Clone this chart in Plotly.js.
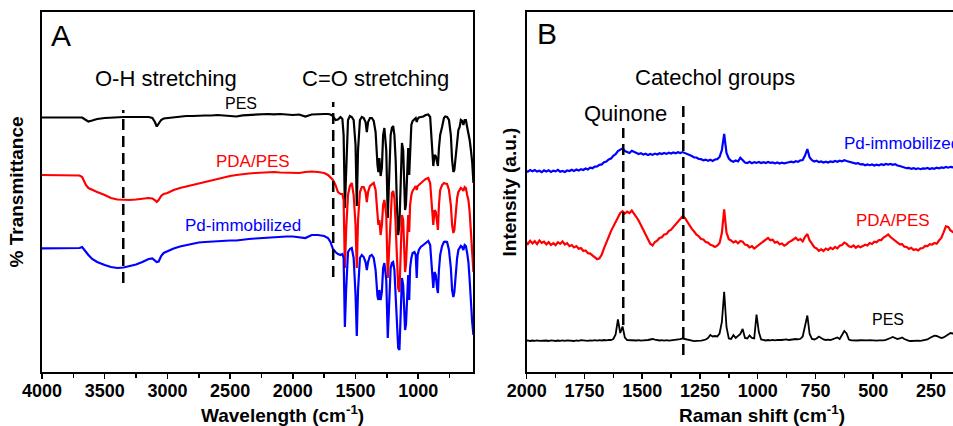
<!DOCTYPE html>
<html>
<head>
<meta charset="utf-8">
<script src="https://cdn.plot.ly/plotly-3.0.1.min.js"></script>
<style>
html,body{margin:0;padding:0;background:#fff;overflow:hidden;}
#chart{width:960px;height:426px;}
</style>
</head>
<body>
<div id="chart"></div>
<script>
// ---------- Panel A: FTIR ----------
const ftirWavenumber = [
4000,3900,3800,3700,3680,3650,3630,3600,3560,3500,
3450,3400,3350,3300,3250,3200,3150,3120,3100,3085,
3070,3050,3030,3000,2950,2900,2850,2800,2750,2700,
2650,2600,2550,2500,2450,2400,2350,2300,2250,2200,
2150,2100,2050,2000,1950,1900,1850,1800,
1750,1720,1700,1680,1660,1640,1620,1605,1595,1585,
1575,1560,1545,1530,1515,1500,1490,1480,1465,1450,
1435,1420,1410,1400,1385,1370,1355,1340,1325,1318,
1310,1300,1290,1280,1270,1255,1243,1232,1220,1210,
1200,1190,1180,1170,1160,1150,1140,1130,1120,1112,
1105,1098,1090,1080,1072,1065,1055,1045,1030,1020,
1012,1005,995,980,960,940,920,905,892,880,
870,860,850,843,835,825,810,795,785,770,
755,740,730,720,712,700,690,680,670,660,
650,640,630,620,610,600,590,580,570,560];

const ftirPES = [
254.5,254.5,254.7,255,254.5,252,250.5,251.5,253,254,
254.5,254.7,255,255,255.2,255.2,255,254,250,245.5,
248,252,253.5,254,255,255.5,256,256,256.5,256.5,
256.5,257,256.5,256,255.5,256.7,257,257.5,258,258,
257.7,258,257.5,257,257.5,255.5,257.5,258,
258,258,257.5,256,252,252.5,255,253,237,164,
207,252,256,255,252,227,166,222,252,255,
254,250,240,250,254,254,251,240,207,200,
214,196,204,237,244,222,154,192,237,244,
246,237,212,167,137,147,192,229,222,187,
162,167,202,224,197,222,247,251,253,254,
250,253,254.5,255,255.5,257,257.5,255,232,206,
217,216,210,206,224,237,245,254,255.5,255,
252,237,212,200,202,217,235,242,245,252,
251,247,252,252,245,240,232,222,210,189];

const ftirPDA = [
197,197,197,196.5,195,187,184,182,180,177,
174,172.5,172,172,172.5,173,174,173.5,172,170,
172,176,178,179,182,184,185.5,187,189,190.5,
192,193.5,195,196,197,198,198.5,199,199.5,200,
200,199.5,199.5,199.5,199,200,200.5,200,
199,197,194,192,187,180,178,178,172,104,
142,177,186,189,177,147,104,152,180,185,
185,180,170,180,186,188,189,182,157,147,
152,137,147,167,172,157,94,122,167,179,
181,174,147,112,84,80,122,157,152,117,
100,107,137,157,140,167,177,181,184,186,
182,186,187,189,191,193,194,189,167,147,
162,160,150,142,167,182,187,189,188.5,188,
182,167,147,139,142,162,174,180,182,184,
183,181,185,184,177,172,160,142,122,100];

const ftirPd = [
123.7,123.7,124,124,125,120,117,113,110,107,
105,104,104.5,106,107.5,110,113,113.5,111,110,
110.5,116,119,121,123.5,125.5,127,128,129.5,130,
130.5,130.5,131,131.5,131.5,132.5,133,133.5,134,134.5,
135,135.5,135.5,135.5,135,134,137,137,
136,134,130,123,120,118,117,118,114,45,
82,120,123,124,114,77,36,82,114,117,
115,110,102,110,116,117,114,102,76,72,
82,72,80,104,109,92,34,67,104,109,
110,102,77,42,24,22,62,94,87,52,
42,47,77,97,72,104,114,119,120,117,
94,117,122,125,127,129,131,127,107,84,
100,97,84,79,102,117,126,130,130.3,130,
122,104,82,75,80,100,114,122,124,126,
125,122,127,126,119,110,92,67,50,37];

const ftirTickValues = [4000,3500,3000,2500,2000,1500,1000];
const ftirBandPositions = [3352, 1678];       // O-H, C=O
const ftirBandLow = [89, 95];
const ftirBandHigh = [262, 270];

// ---------- Panel B: Raman ----------
const ramanShift = [
2005,1995,1985,1975,1965,1955,1945,1935,1925,1915,
1905,1895,1885,1875,1865,1855,1845,1835,1825,1815,
1805,1795,1785,1775,1765,1755,1745,1735,1725,1715,
1705,1695,1685,1675,1665,1655,1645,1635,1625,1615,
1605,1595,1585,1575,1565,1555,1545,1535,1525,1515,
1505,1495,1485,1475,1465,1455,1445,1435,1425,1415,
1405,1395,1385,1375,1365,1355,1345,1335,1325,1315,
1305,1295,1285,1275,1265,1255,1245,1235,1225,1215,
1205,1195,1185,1175,1165,1155,1145,1135,1125,1115,
1105,1095,1085,1075,1065,1055,1045,1035,1025,1015,
1005,995,985,975,965,955,945,935,925,915,
905,895,885,875,865,855,845,835,825,815,
805,795,785,775,765,755,745,735,725,715,
705,695,685,675,665,655,645,635,625,615,
605,595,585,575,565,555,545,535,525,515,
505,495,485,475,465,455,445,435,425,415,
405,395,385,375,365,355,345,335,325,315,
305,295,285,275,265,255,245,235,225,215,
205,195,185,175,165,155,145,135,125];

const ramanPd = [
201.5,200.2,202.0,200.8,201.9,200.4,201.2,199.9,201.6,200.5,
201.8,200.1,201.3,200.6,202.1,200.3,201.0,200.0,201.5,201.0,
202.3,201.1,202.4,201.4,202.8,202.0,203.5,202.6,204.3,203.8,
205.4,205.6,207.2,207.6,209.8,210.4,212.6,213.5,216.2,217.8,
220.9,222.5,223.6,221.0,220.3,219.0,221.2,220.0,219.6,218.0,
218.7,217.4,218.2,216.9,218.0,217.1,218.4,217.5,218.8,218.0,
219.0,218.1,219.2,218.4,219.5,218.7,219.8,218.9,219.9,219.0,
218.3,216.8,216.0,214.6,214.5,213.0,212.8,211.6,212.4,211.3,
212.2,211.0,212.5,212.9,215.0,222.0,238.0,219.0,213.5,211.2,
210.3,211.5,210.6,214.2,212.0,209.4,209.0,210.2,208.8,209.9,
209.1,210.0,208.9,209.8,209.0,210.1,209.2,209.6,208.6,209.5,
208.5,209.4,208.7,209.0,209.8,210.4,209.6,210.8,210.1,211.6,
212.0,216.5,223.0,214.5,211.8,210.5,211.2,209.9,210.6,209.5,
210.3,209.4,210.6,210.0,211.0,210.2,211.3,210.6,211.8,211.0,
210.3,209.6,209.0,208.4,208.9,207.6,207.9,206.7,207.5,206.8,
207.6,206.5,207.3,206.6,207.8,207.0,208.1,207.5,208.0,207.2,
207.9,206.5,206.0,205.2,204.8,203.8,204.2,203.1,203.9,203.0,
203.7,202.8,203.6,203.3,204.1,203.0,203.8,203.2,204.4,203.6,
204.5,204.1,205.0,204.3,205.2,204.7,205.4,204.9,205.3];

const ramanPDA = [
130.5,128.0,131.2,128.6,130.8,127.9,131.5,129.2,130.3,127.6,
129.9,127.0,128.8,126.9,129.8,128.1,130.6,127.5,128.9,125.8,
127.0,124.6,125.9,123.2,123.9,121.0,121.6,118.8,118.4,116.3,
115.2,112.8,113.6,117.5,123.8,130.5,135.2,140.9,145.2,150.4,
154.6,159.0,160.8,158.4,160.3,158.9,161.4,158.6,155.0,151.2,
146.5,142.8,137.4,132.6,128.3,126.5,130.0,131.4,134.0,134.8,
137.5,137.9,141.0,142.4,145.1,147.6,150.3,152.1,155.8,154.0,
150.2,146.8,143.1,140.5,137.4,135.8,133.0,132.6,130.0,129.4,
127.2,126.5,125.0,126.3,129.0,139.0,162.7,139.5,132.8,131.6,
129.5,130.8,128.7,131.0,130.2,127.4,126.9,124.6,125.8,123.5,
125.4,126.8,129.5,131.2,132.4,134.0,131.8,132.3,129.4,130.2,
127.8,128.5,126.4,127.6,129.9,131.0,132.5,134.2,131.8,133.0,
130.6,135.2,138.0,131.5,128.4,124.8,123.5,121.2,122.6,121.0,
123.4,122.1,124.3,122.8,125.0,123.6,126.2,127.0,129.4,128.1,
125.8,124.9,126.6,124.3,126.0,124.8,125.9,127.2,126.5,128.9,
128.0,130.3,129.8,132.0,131.9,134.5,135.8,137.6,135.0,133.2,
130.8,129.5,127.6,127.9,125.3,125.0,123.1,124.2,122.0,122.8,
121.5,123.6,124.0,126.1,125.8,127.9,127.4,129.0,128.2,131.5,
134.0,139.6,145.6,145.0,141.5,140.0,138.2,138.9,137.6];

const ramanPES = [
31.2,31.6,31.0,31.5,31.1,31.7,31.2,31.4,30.9,31.5,
31.0,31.6,31.3,31.0,31.5,31.1,31.6,31.2,31.7,31.3,
31.5,31.0,31.6,31.2,31.8,31.4,31.6,31.1,31.7,31.3,
31.8,31.4,31.9,31.5,32.0,31.7,32.2,32.0,33.0,37.5,
52.5,39.0,45.5,34.5,32.0,31.8,31.4,31.9,31.5,31.8,
31.3,31.7,31.5,32.0,32.5,33.0,32.4,31.8,31.5,31.9,
31.4,31.8,31.3,31.6,31.9,31.5,32.1,32.8,33.5,33.0,
32.2,31.5,31.0,30.8,31.2,30.9,31.3,31.8,32.5,34.0,
37.0,35.5,36.0,35.5,38.5,50.0,80.3,45.0,33.5,33.0,
37.0,34.0,36.5,38.0,43.0,34.0,33.5,36.5,34.0,33.5,
57.5,40.0,32.5,31.8,31.5,32.0,31.6,32.1,31.7,32.2,
31.8,32.0,32.4,32.6,32.0,32.3,32.8,33.0,32.6,33.2,
35.5,45.0,56.5,38.0,33.0,32.5,33.5,35.5,34.0,32.5,
32.0,32.4,32.0,32.6,33.5,34.5,33.0,37.0,41.0,38.5,
32.5,31.6,31.4,31.8,31.5,31.9,31.6,32.0,31.7,31.9,
31.5,31.8,31.4,31.7,31.3,31.6,32.2,32.8,34.0,35.0,
34.0,33.0,33.5,34.5,33.0,31.8,31.2,31.0,31.3,31.0,
31.4,31.1,31.5,31.8,32.5,34.0,35.5,36.3,36.0,35.0,
34.0,34.5,36.0,37.5,39.0,38.5,38.0,37.5,37.0];

const ramanTickValues = [2000,1750,1500,1250,1000,750,500,250];
const ramanBandPositions = [1582, 1322];      // Quinone, Catechol
const ramanBandLow = [47, 17];
const ramanBandHigh = [244, 272];

// ---------- layout helpers ----------
const W = 960, H = 426, ML = 42, MT = 12, MB = 54;
const PW = W - ML, PH = H - MT - MB;
const fx = px => (px - ML) / PW;
const fy = py => (H - MB - py) / PH;
const FONT = 'Arial, "Liberation Sans", sans-serif';

function ann(text, x, y, size, color, opts) {
  return Object.assign({
    text: text, xref: 'paper', yref: 'paper', x: fx(x), y: fy(y),
    xanchor: 'center', yanchor: 'middle', showarrow: false,
    font: {family: FONT, size: size, color: color || '#000'}
  }, opts || {});
}

const traces = [
  {x: ftirWavenumber, y: ftirPES, xaxis: 'x', yaxis: 'y', mode: 'lines', name: 'PES', line: {color: '#000000', width: 2.2}},
  {x: ftirWavenumber, y: ftirPDA, xaxis: 'x', yaxis: 'y', mode: 'lines', name: 'PDA/PES', line: {color: '#ff0000', width: 2.2}},
  {x: ftirWavenumber, y: ftirPd, xaxis: 'x', yaxis: 'y', mode: 'lines', name: 'Pd-immobilized', line: {color: '#0000ff', width: 2.2}},
  {x: ramanShift, y: ramanPd, xaxis: 'x2', yaxis: 'y2', mode: 'lines', name: 'Pd-immobilized', line: {color: '#0000ff', width: 2.2}},
  {x: ramanShift, y: ramanPDA, xaxis: 'x2', yaxis: 'y2', mode: 'lines', name: 'PDA/PES', line: {color: '#ff0000', width: 2.2}},
  {x: ramanShift, y: ramanPES, xaxis: 'x2', yaxis: 'y2', mode: 'lines', name: 'PES', line: {color: '#000000', width: 1.8}}
];

const shapes = [];
ftirBandPositions.forEach((v, i) => shapes.push({type: 'line', xref: 'x', yref: 'y', x0: v, x1: v, y0: ftirBandLow[i], y1: ftirBandHigh[i], line: {color: '#000', width: 2.5, dash: '11px,6px'}}));
ramanBandPositions.forEach((v, i) => shapes.push({type: 'line', xref: 'x2', yref: 'y2', x0: v, x1: v, y0: ramanBandLow[i], y1: ramanBandHigh[i], line: {color: '#000', width: 2.5, dash: '11px,6px'}}));

const axisCommon = {
  showline: true, linecolor: '#000', linewidth: 1.6, mirror: true,
  showgrid: false, zeroline: false, automargin: false
};
const tickFont = {family: FONT, size: 18, color: '#000', weight: 'bold'};
const titleFont = {family: FONT, size: 19, color: '#000', weight: 'bold'};

const layout = {
  width: W, height: H,
  margin: {l: ML, r: 0, t: MT, b: MB, pad: 0},
  paper_bgcolor: '#fff', plot_bgcolor: '#fff',
  showlegend: false,
  xaxis: Object.assign({}, axisCommon, {
    domain: [0, fx(473.3)], range: [4000, 561], anchor: 'y',
    tickmode: 'array', tickvals: ftirTickValues,
    ticks: 'outside', ticklen: 5, tickwidth: 1.5, tickcolor: '#000',
    ticklabelstandoff: -3,
    tickfont: tickFont,
    minor: {dtick: 250, tick0: 0, ticks: 'outside', ticklen: 4, tickwidth: 1.5, tickcolor: '#000'}
  }),
  yaxis: Object.assign({}, axisCommon, {
    domain: [0, 1], range: [0, 360], anchor: 'x',
    showticklabels: false, ticks: '',
    title: {text: '% Transmittance', font: titleFont, standoff: 12}
  }),
  xaxis2: Object.assign({}, axisCommon, {
    domain: [fx(526.7), 1], range: [2000, 124], anchor: 'y2',
    tickmode: 'array', tickvals: ramanTickValues,
    ticks: 'outside', ticklen: 5, tickwidth: 1.5, tickcolor: '#000',
    ticklabelstandoff: -3,
    tickfont: tickFont,
    minor: {dtick: 125, tick0: 0, ticks: 'outside', ticklen: 4, tickwidth: 1.5, tickcolor: '#000'}
  }),
  yaxis2: Object.assign({}, axisCommon, {
    domain: [0, 1], range: [0, 360], anchor: 'x2',
    showticklabels: false, ticks: '',
    title: {text: 'Intensity (a.u.)', font: titleFont, standoff: 3}
  }),
  shapes: shapes,
  annotations: [
    ann('A', 61, 36, 30),
    ann('B', 547, 33, 30),
    ann('O-H stretching', 166, 78, 22),
    ann('C=O stretching', 375, 78, 22),
    ann('PES', 241, 103, 16),
    ann('PDA/PES', 253, 161, 17, '#ff0000'),
    ann('Pd-immobilized', 242.5, 225, 17, '#0000ff'),
    ann('Catechol groups', 715, 77, 22),
    ann('Quinone', 625, 113, 22),
    ann('Pd-immobilized', 841.7, 143, 17, '#0000ff', {xanchor: 'left'}),
    ann('PDA/PES', 892.5, 221, 17, '#ff0000'),
    ann('PES', 888, 319, 16),
    ann('<b>Wavelength (cm<sup>-1</sup>)</b>', 282.5, 414, 19),
    ann('<b>Raman shift (cm<sup>-1</sup>)</b>', 761.7, 414, 19)
  ]
};

Plotly.newPlot('chart', traces, layout, {staticPlot: true, displayModeBar: false});
</script>
</body>
</html>
